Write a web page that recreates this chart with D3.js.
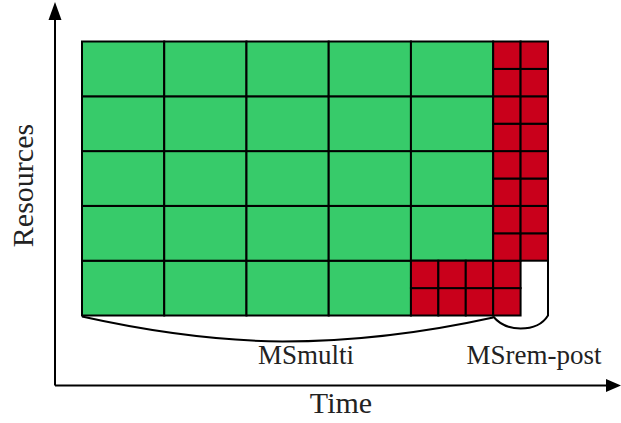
<!DOCTYPE html>
<html><head><meta charset="utf-8">
<script src="https://cdn.jsdelivr.net/npm/d3@7"></script>
<style>body{margin:0;background:#fff}svg{display:block}</style>
</head><body>
<script>
// grid units: time slots (sub-units) and resource slots (sub-units)
const timeUnits = 17;
const resourceUnits = 10;
// big (green) tasks: start time, start resource, width 3, height 2
const bigTaskStarts = [0, 3, 6, 9, 12];
const bigTaskRows = [0, 2, 4, 6, 8];
const bigW = 3, bigH = 2;
// small (red) tasks: [time, resource]
const smallTasks = [
  [12,0],[13,0],[14,0],[15,0],
  [12,1],[13,1],[14,1],[15,1],
  [15,2],[16,2],[15,3],[16,3],[15,4],[16,4],[15,5],[16,5],
  [15,6],[16,6],[15,7],[16,7],[15,8],[16,8],[15,9],[16,9]
];
const brackets = [
  {label: "MSmulti", from: 0, to: 15},
  {label: "MSrem-post", from: 15, to: 17}
];
const axisLabels = {x: "Time", y: "Resources"};

const FONT = "Liberation Serif, Times New Roman, DejaVu Serif, serif";
const W = 621, H = 423;
const svg = d3.select("body").append("svg").attr("width", W).attr("height", H);
const x = d3.scaleLinear().domain([0, timeUnits]).range([82, 548]);
const y = d3.scaleLinear().domain([0, resourceUnits]).range([315.5, 41.5]);

const bigTasks = [];
bigTaskStarts.forEach(t => bigTaskRows.forEach(r => {
  if (!(t === 12 && r === 0)) bigTasks.push([t, r]);
}));

svg.append("g").selectAll("rect").data(bigTasks).join("rect")
  .attr("x", d => x(d[0])).attr("y", d => y(d[1] + bigH))
  .attr("width", d => x(d[0] + bigW) - x(d[0]))
  .attr("height", d => y(d[1]) - y(d[1] + bigH))
  .attr("fill", "#37cb6a").attr("stroke", "#000").attr("stroke-width", 2);

svg.append("g").selectAll("rect").data(smallTasks).join("rect")
  .attr("x", d => x(d[0])).attr("y", d => y(d[1] + 1))
  .attr("width", d => x(d[0] + 1) - x(d[0]))
  .attr("height", d => y(d[1]) - y(d[1] + 1))
  .attr("fill", "#c9001b").attr("stroke", "#000").attr("stroke-width", 2);

// brackets
const yb = y(0) + 1;
const b0 = brackets[0];
const xm = x(b0.from) + (x(b0.to) - x(b0.from)) * 0.5;
svg.append("path")
  .attr("d", `M${x(b0.from)},${yb} Q${x(b0.from) + 108},${yb + 24} ${xm - 5},${yb + 25} Q${xm + 97},${yb + 25} ${x(b0.to)},${yb + 1}`)
  .attr("fill", "none").attr("stroke", "#000").attr("stroke-width", 2);
const b1 = brackets[1];
const xm1 = (x(b1.from) + x(b1.to)) / 2;
svg.append("path")
  .attr("d", `M${x(b1.from)},${yb} Q${x(b1.from) + 10},${yb + 12} ${xm1},${yb + 12} Q${x(b1.to) - 8},${yb + 12} ${x(b1.to)},${yb - 1} L${x(b1.to)},${y(2)}`)
  .attr("fill", "none").attr("stroke", "#000").attr("stroke-width", 2);

svg.append("text").attr("x", 306).attr("y", 364).attr("text-anchor", "middle")
  .attr("font-family", FONT).attr("fill", "#222")
  .attr("font-size", 27).text(b0.label);
svg.append("text").attr("x", 534).attr("y", 364).attr("text-anchor", "middle")
  .attr("font-family", FONT).attr("fill", "#222")
  .attr("font-size", 27).text(b1.label);

// axes
const ax = 55, ay = 385.5;
svg.append("line").attr("x1", ax).attr("y1", ay).attr("x2", 608).attr("y2", ay)
  .attr("stroke", "#000").attr("stroke-width", 2);
svg.append("line").attr("x1", ax).attr("y1", ay).attr("x2", ax).attr("y2", 18)
  .attr("stroke", "#000").attr("stroke-width", 2);
svg.append("path").attr("d", `M621,${ay} L606,${ay - 6.5} L606,${ay + 6.5} Z`).attr("fill", "#000");
svg.append("path").attr("d", `M${ax},2 L${ax - 6.5},20 L${ax + 6.5},20 Z`).attr("fill", "#000");

svg.append("text").attr("x", 341).attr("y", 413).attr("text-anchor", "middle")
  .attr("font-family", FONT).attr("fill", "#222")
  .attr("font-size", 30).text(axisLabels.x);
svg.append("text").attr("transform", "translate(33,185.5) rotate(-90)").attr("text-anchor", "middle")
  .attr("font-family", FONT).attr("fill", "#222")
  .attr("font-size", 30).text(axisLabels.y);
</script>
</body></html>
